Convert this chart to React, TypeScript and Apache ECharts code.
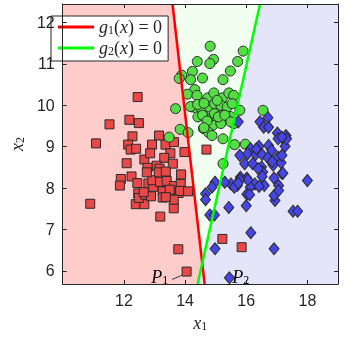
import React, { useEffect, useRef } from "react";
import * as echarts from "echarts";

// axis ranges and ticks
const xRange = [10, 19];
const yRange = [5.68, 12.45];
const xTicks = [12, 14, 16, 18];
const yTicks = [6, 7, 8, 9, 10, 11, 12];

// decision boundaries (endpoints at top and bottom of the plot)
const g1Line = [[13.59, 12.45], [14.64, 5.68]];
const g2Line = [[16.45, 12.45], [14.41, 5.68]];

// class 1 (red squares)
const class1Points = [
  [12.45, 10.2], [11.53, 9.54], [12.18, 9.65], [12.49, 9.57], [11.09, 9.08], [12.28, 9.25],
  [12.14, 9.05], [12.22, 8.93], [12.4, 8.95], [12.09, 8.6], [13.15, 9.27], [12.92, 9.05],
  [12.67, 8.69], [12.86, 8.84], [13.36, 9.05], [13.64, 9.11], [13.52, 8.84], [13.32, 8.73],
  [13.07, 8.54], [12.77, 8.49], [13.6, 8.59], [13.17, 8.47], [13.98, 8.87], [10.9, 7.62],
  [11.9, 8.22], [11.87, 8.06], [12.25, 8.28], [12.44, 8.12], [12.47, 7.87], [12.39, 7.61],
  [12.67, 7.61], [12.49, 7.76], [12.7, 7.84], [12.89, 7.8], [12.8, 8.11], [12.96, 8.03],
  [12.93, 8.19], [13.19, 7.31], [13.27, 7.92], [13.27, 7.77], [13.18, 8.15], [13.4, 8.17],
  [13.53, 7.86], [13.63, 7.51], [13.64, 8.05], [13.79, 7.88], [13.86, 8.1], [13.78, 6.52],
  [12.75, 8.38], [13.14, 8.38], [13.37, 8.4], [13.87, 8.33], [13.5, 7.96], [13.84, 7.93],
  [14.1, 7.92], [12.65, 7.9], [13.63, 7.72], [13.37, 7.78], [14.05, 5.98], [14.7, 8.93],
  [15.22, 6.77], [15.85, 6.57],
];

// class 2 (green circles)
const class2Points = [
  [14.82, 11.43], [15.9, 11.31], [14.93, 11.11], [14.81, 11.01], [14.4, 11.06], [15.72, 11.06],
  [15.48, 10.83], [14.24, 10.82], [14.57, 10.66], [14.18, 10.62], [15.24, 10.62], [13.89, 10.73],
  [13.81, 10.65], [14.32, 10.38], [14.08, 10.27], [14.39, 10.24], [14.74, 10.18], [14.94, 10.3],
  [15.22, 10.18], [15.43, 10.3], [15.59, 10.24], [14.24, 9.96], [14.39, 9.92], [14.55, 9.88],
  [14.81, 9.96], [14.96, 10.04], [15.17, 10.0], [15.38, 9.96], [15.54, 10.04], [15.79, 9.88],
  [16.55, 9.88], [14.42, 9.72], [14.65, 9.72], [14.96, 9.8], [15.22, 9.76], [15.22, 9.68],
  [15.48, 9.73], [14.76, 9.6], [14.91, 9.52], [15.17, 9.56], [14.6, 9.44], [14.76, 9.35],
  [14.88, 9.27], [15.24, 9.19], [15.59, 9.56], [15.62, 9.05], [15.97, 9.06], [15.24, 8.59],
  [13.69, 9.92], [13.84, 9.42], [13.48, 9.23], [14.1, 9.34], [14.18, 9.97], [14.41, 10.02],
  [14.57, 9.76], [14.72, 9.62], [14.62, 9.46], [15.09, 9.72], [15.3, 9.76], [15.5, 9.6],
  [15.05, 10.12], [14.62, 10.05],
];

// class 3 (blue diamonds)
const class3Points = [
  [15.74, 9.6], [16.45, 9.6], [16.71, 9.7], [16.57, 9.47], [16.73, 9.47], [17.02, 9.33],
  [17.3, 9.27], [17.25, 9.15], [17.04, 9.19], [17.27, 9.01], [16.42, 9.01], [16.14, 8.95],
  [16.73, 9.03], [16.83, 8.91], [15.79, 8.79], [16.05, 8.83], [16.31, 8.81], [16.52, 8.81],
  [16.71, 8.73], [17.04, 8.75], [17.14, 8.61], [15.95, 8.59], [16.21, 8.59], [16.5, 8.51],
  [16.88, 8.55], [17.32, 9.19], [17.17, 9.23], [16.33, 8.95], [16.85, 8.64], [17.17, 8.79],
  [16.54, 8.39], [16.39, 8.47], [17.17, 8.35], [16.91, 8.24], [18.0, 8.18], [15.81, 8.26],
  [16.02, 8.24], [15.5, 8.1], [15.71, 8.06], [15.3, 8.14], [16.28, 8.1], [16.59, 8.06],
  [17.06, 8.06], [14.98, 8.14], [14.88, 8.02], [14.67, 7.86], [14.67, 7.72], [14.81, 7.35],
  [14.96, 7.35], [15.43, 7.53], [16.0, 7.57], [16.94, 7.7], [16.91, 7.82], [17.06, 7.94],
  [17.53, 7.44], [17.68, 7.44], [16.15, 6.92], [14.98, 6.53], [16.91, 6.53], [15.45, 5.83],
  [15.61, 8.02], [16.13, 8.02], [16.02, 7.85], [17.2, 8.36], [16.52, 8.28], [16.42, 8.04],
  [16.11, 7.84], [16.05, 8.2], [15.79, 8.2], [15.74, 8.12],
];

// annotations
const annotationNames = ["1", "2"];
const annotationX = [13.17, 15.82];
const annotationY = [5.86, 5.86];
const p1Pointer = [[13.58, 5.79], [13.89, 5.89]];

const AX = "#262626";
const SERIF = "Liberation Serif";

const rich = {
  it: { fontFamily: SERIF, fontStyle: "italic", fontSize: 18, lineHeight: 18, verticalAlign: "bottom", color: AX },
  up: { fontFamily: SERIF, fontSize: 18, lineHeight: 18, verticalAlign: "bottom", color: AX },
  sub: { fontFamily: SERIF, fontSize: 12, lineHeight: 8, verticalAlign: "bottom", color: AX },
};

function intersect(a: number[][], b: number[][]) {
  const [x1, y1] = a[0], [x2, y2] = a[1], [x3, y3] = b[0], [x4, y4] = b[1];
  const d = (x1 - x2) * (y3 - y4) - (y1 - y2) * (x3 - x4);
  const t = ((x1 - x3) * (y3 - y4) - (y1 - y3) * (x3 - x4)) / d;
  return [x1 + t * (x2 - x1), y1 + t * (y2 - y1)];
}

export default function App() {
  const ref = useRef<HTMLDivElement>(null);
  useEffect(() => {
    const chart = echarts.init(ref.current!, null, { renderer: "svg" });
    const cross = intersect(g1Line, g2Line);
    const [x0, x1] = xRange;
    const [y0, y1] = yRange;

    const axisCommon = (pos: string, labels: boolean, ticks: number[]) => ({
      type: "value",
      position: pos,
      z: 10,
      axisLine: { show: true, onZero: false, lineStyle: { color: AX, width: 1 } },
      axisTick: { show: true, inside: true, length: 4, customValues: ticks, lineStyle: { color: AX } },
      axisLabel: labels
        ? { show: true, customValues: ticks, fontSize: 16, fontFamily: "Liberation Sans", color: AX, margin: 8 }
        : { show: false },
      splitLine: { show: false },
    });

    const option: any = {
      animation: false,
      grid: { left: 50, right: 14, top: 4, bottom: 58 },
      legend: {
        data: ["g1", "g2"],
        orient: "vertical",
        left: 51,
        top: 16,
        padding: [2, 6, 4, 7],
        itemGap: 3,
        itemWidth: 36,
        itemHeight: 3,
        icon: "rect",
        backgroundColor: "#ffffff",
        borderColor: AX,
        borderWidth: 1,
        borderRadius: 0,
        selectedMode: false,
        textStyle: { lineHeight: 18, rich },
        formatter: (n: string) => (n === "g1" ? "{it|g}{sub|1}{up|(}{it|x}{up|) = 0}" : "{it|g}{sub|2}{up|(}{it|x}{up|) = 0}"),
      },
      xAxis: [
        {
          ...axisCommon("bottom", true, xTicks),
          min: x0,
          max: x1,
          name: "{it|x}{sub|1}",
          nameLocation: "middle",
          nameGap: 30,
          nameTextStyle: { rich },
        },
        { ...axisCommon("top", false, xTicks), min: x0, max: x1 },
      ],
      yAxis: [
        {
          ...axisCommon("left", true, yTicks),
          min: y0,
          max: y1,
          name: "{it|x}{sub|2}",
          nameLocation: "middle",
          nameGap: 33,
          nameTextStyle: { rich },
        },
        { ...axisCommon("right", false, yTicks), min: y0, max: y1 },
      ],
      series: [
        {
          type: "custom",
          name: "regions",
          silent: true,
          clip: true,
          z: 0,
          data: [[x0, y0]],
          renderItem: (_p: any, api: any) => {
            const c = (p: number[]) => api.coord(p);
            const poly = (pts: number[][], fill: string) => ({
              type: "polygon",
              shape: { points: pts.map(c) },
              style: { fill },
            });
            return {
              type: "group",
              children: [
                poly([[x0, y0], [x0, y1], g1Line[0], g1Line[1]], "#ffcccc"),
                poly([g2Line[0], [x1, y1], [x1, y0], g2Line[1]], "#e5e5fa"),
                poly([g1Line[0], g2Line[0], cross], "#f0fff0"),
              ],
            };
          },
        },
        {
          type: "scatter",
          name: "c1",
          data: class1Points,
          symbol: "rect",
          symbolSize: 9,
          itemStyle: { color: "#e84848", borderColor: "#2a2a2a", borderWidth: 1, opacity: 1 },
          z: 3,
        },
        {
          type: "scatter",
          name: "c2",
          data: class2Points,
          symbol: "circle",
          symbolSize: 10,
          itemStyle: { color: "#55dd46", borderColor: "#2a2a2a", borderWidth: 1, opacity: 1 },
          z: 3,
        },
        {
          type: "scatter",
          name: "c3",
          data: class3Points,
          symbol: "diamond",
          symbolSize: [10, 12],
          itemStyle: { color: "#4646e6", borderColor: "#2a2a2a", borderWidth: 1, opacity: 1 },
          z: 3,
        },
        {
          type: "line",
          name: "g1",
          data: g1Line,
          symbol: "none",
          lineStyle: { color: "#ff0000", width: 2.5 },
          itemStyle: { color: "#ff0000" },
          z: 5,
        },
        {
          type: "line",
          name: "g2",
          data: g2Line,
          symbol: "none",
          lineStyle: { color: "#00ff00", width: 2.5 },
          itemStyle: { color: "#00ff00" },
          z: 5,
        },
        {
          type: "line",
          name: "p1ptr",
          data: p1Pointer,
          symbol: "none",
          lineStyle: { color: "#333333", width: 1 },
          z: 6,
        },
        {
          type: "custom",
          name: "annot",
          silent: true,
          z: 7,
          data: annotationX.map((x, i) => [x, annotationY[i], i]),
          renderItem: (_p: any, api: any) => {
            const i = api.value(2);
            const pt = api.coord([api.value(0), api.value(1)]);
            return {
              type: "text",
              x: pt[0],
              y: pt[1],
              style: {
                text: `{it|P}{sub|${annotationNames[i]}}`,
                rich,
                align: "center",
                verticalAlign: "middle",
              },
            };
          },
        },
      ],
    };
    chart.setOption(option);
    return () => chart.dispose();
  }, []);
  return <div ref={ref} style={{ position: "fixed", left: 0, top: 0, width: 352, height: 342 }} />;
}
